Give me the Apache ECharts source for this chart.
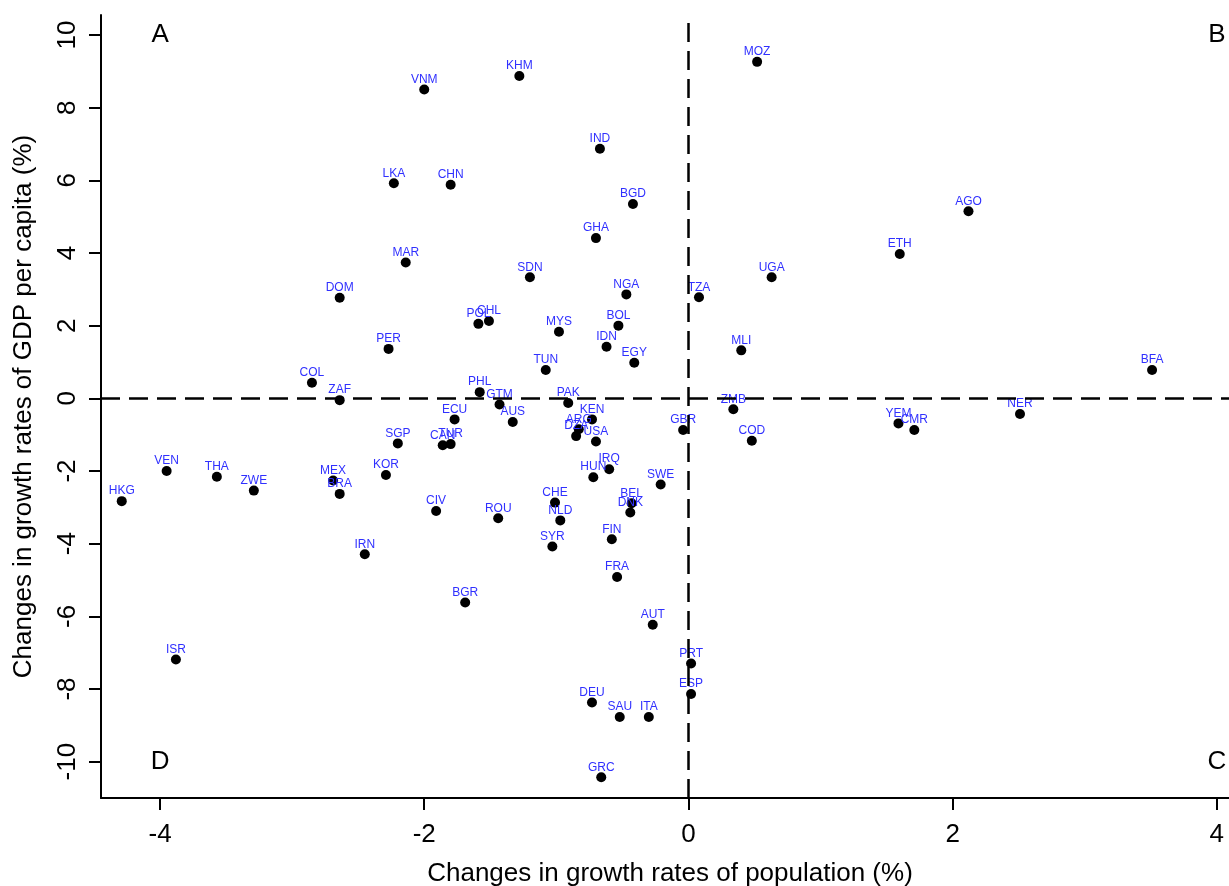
<!DOCTYPE html>
<html><head><meta charset="utf-8">
<script src="https://cdn.jsdelivr.net/npm/echarts@6/dist/echarts.min.js"></script>
<style>html,body{margin:0;padding:0;background:#fff}#c{width:1229px;height:886px}</style>
</head><body><div id="c"></div>
<script>
const countries = ['VNM','KHM','IND','CHN','BGD','GHA','MAR','SDN','NGA','TZA','MOZ','UGA','AGO','ETH','LKA','DOM','PER','COL','ZAF','SGP','VEN','THA','ZWE','HKG','MEX','BRA','KOR','IRN','POL','CHL','MYS','BOL','IDN','EGY','TUN','MLI','PHL','GTM','PAK','ECU','AUS','KEN','ARG','DZA','USA','GBR','ZMB','CAN','TUR','HUN','IRQ','SWE','CHE','BEL','DNK','NLD','CIV','ROU','FIN','SYR','BFA','NER','YEM','CMR','COD','ISR','FRA','BGR','AUT','PRT','ESP','DEU','SAU','ITA','GRC'];
const popChange = [-2.00,-1.28,-0.67,-1.80,-0.42,-0.70,-2.14,-1.20,-0.47,0.08,0.52,0.63,2.12,1.60,-2.23,-2.64,-2.27,-2.85,-2.64,-2.20,-3.95,-3.57,-3.29,-4.29,-2.69,-2.64,-2.29,-2.45,-1.59,-1.51,-0.98,-0.53,-0.62,-0.41,-1.08,0.40,-1.58,-1.43,-0.91,-1.77,-1.33,-0.73,-0.83,-0.85,-0.70,-0.04,0.34,-1.86,-1.80,-0.72,-0.60,-0.21,-1.01,-0.43,-0.44,-0.97,-1.91,-1.44,-0.58,-1.03,3.51,2.51,1.59,1.71,0.48,-3.88,-0.54,-1.69,-0.27,0.02,0.02,-0.73,-0.52,-0.30,-0.66];
const gdpChange = [8.50,8.87,6.87,5.88,5.35,4.41,3.74,3.33,2.86,2.78,9.26,3.33,5.15,3.97,5.92,2.77,1.36,0.43,-0.05,-1.24,-2.00,-2.16,-2.54,-2.83,-2.26,-2.63,-2.11,-4.29,2.05,2.13,1.83,2.00,1.42,0.98,0.78,1.32,0.17,-0.17,-0.13,-0.58,-0.65,-0.58,-0.85,-1.04,-1.19,-0.87,-0.30,-1.29,-1.26,-2.17,-1.95,-2.37,-2.87,-2.89,-3.14,-3.36,-3.10,-3.30,-3.88,-4.08,0.78,-0.43,-0.69,-0.87,-1.17,-7.19,-4.92,-5.62,-6.23,-7.30,-8.14,-8.37,-8.77,-8.77,-10.43];
const xTicks = [-4,-2,0,2,4];
const yTicks = [-10,-8,-6,-4,-2,0,2,4,6,8,10];
const quadrantLabels = ['A','B','C','D'];
const quadrantX = [-4,4,4,-4];
const quadrantY = [10,10,-10,-10];
const xTitle = 'Changes in growth rates of population (%)';
const yTitle = 'Changes in growth rates of GDP per capita (%)';

const FONT = '"Liberation Sans", Arial, sans-serif';
const chart = echarts.init(document.getElementById('c'));
const pts = countries.map((c, i) => [popChange[i], gdpChange[i], c]);
const quad = quadrantLabels.map((l, i) => [quadrantX[i], quadrantY[i], l]);

chart.setOption({
  animation: false,
  backgroundColor: '#fff',
  grid: { left: 101, top: 15, bottom: 88, width: 1138, containLabel: false, outerBoundsMode: 'none' },
  xAxis: {
    type: 'value', min: -4.447, max: 4.168,
    axisLine: { show: true, onZero: false, lineStyle: { color: '#000', width: 2 } },
    axisTick: { show: true, customValues: xTicks, length: 12, lineStyle: { color: '#000', width: 2 } },
    axisLabel: { customValues: xTicks, fontSize: 26, color: '#000', fontFamily: FONT, margin: 24 },
    splitLine: { show: false },
    name: xTitle, nameLocation: 'middle', nameGap: 63,
    nameTextStyle: { fontSize: 26, color: '#000', fontFamily: FONT }
  },
  yAxis: {
    type: 'value', min: -11.0, max: 10.55,
    axisLine: { show: true, onZero: false, lineStyle: { color: '#000', width: 2 } },
    axisTick: { show: true, customValues: yTicks, length: 12, lineStyle: { color: '#000', width: 2 } },
    axisLabel: { customValues: yTicks, fontSize: 26, color: '#000', fontFamily: FONT, margin: 20, rotate: 90 },
    splitLine: { show: false },
    name: yTitle, nameLocation: 'middle', nameGap: 64,
    nameTextStyle: { fontSize: 26, color: '#000', fontFamily: FONT }
  },
  series: [
    {
      type: 'scatter', data: pts, symbol: 'circle', symbolSize: 10,
      itemStyle: { color: '#000', opacity: 1 },
      label: { show: true, position: 'top', distance: -1, formatter: p => p.data[2],
               color: '#3030ff', fontSize: 12, fontFamily: FONT },
      labelLayout: { hideOverlap: false },
      markLine: {
        silent: true, symbol: ['none', 'none'], animation: false,
        label: { show: false },
        lineStyle: { color: '#000', width: 2.5, type: [19, 9] },
        emphasis: { disabled: true },
        data: [{ xAxis: 0 }, { yAxis: 0 }]
      },
      z: 3
    },
    {
      type: 'scatter', data: quad, symbolSize: 2, itemStyle: { color: 'rgba(0,0,0,0)' },
      label: { show: true, position: 'inside', formatter: p => p.data[2],
               color: '#000', opacity: 1, textBorderWidth: 0, fontSize: 26, fontFamily: FONT },
      labelLayout: { hideOverlap: false },
      silent: true
    }
  ]
});
</script></body></html>
